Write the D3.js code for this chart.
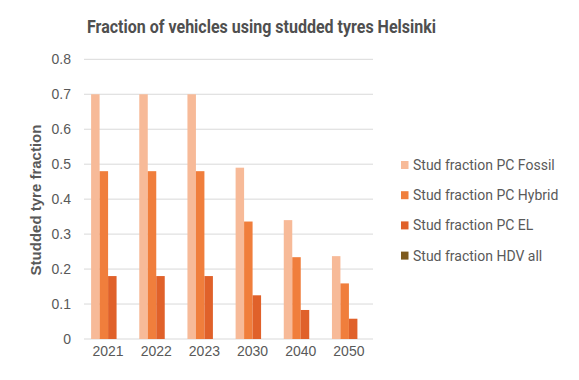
<!DOCTYPE html>
<html><head><meta charset="utf-8">
<script src="https://cdn.jsdelivr.net/npm/d3@7"></script>
<style>body{margin:0;background:#fff}svg{display:block}</style>
</head><body>
<script>
const categories = ["2021","2022","2023","2030","2040","2050"];
const seriesNames = ["Stud fraction PC Fossil","Stud fraction PC Hybrid","Stud fraction PC EL","Stud fraction HDV all"];
const fossil = [0.70,0.70,0.70,0.49,0.34,0.237];
const hybrid = [0.48,0.48,0.48,0.336,0.234,0.159];
const el = [0.18,0.18,0.18,0.125,0.083,0.058];
const hdv = [0,0,0,0,0,0];
const yTicks = [0,0.1,0.2,0.3,0.4,0.5,0.6,0.7,0.8];
const colors = ["#F7BA98","#F07E3C","#E0612A","#7D5A1E"];
const series = [fossil,hybrid,el,hdv];

const W=579,H=380;
const svg=d3.select("body").append("svg").attr("width",W).attr("height",H);
const x0=d3.scaleBand().domain(categories).range([84,373]).paddingInner(0.295).paddingOuter(0.1475);
const x1=d3.scaleBand().domain(d3.range(4)).range([0,x0.bandwidth()]);
const y=d3.scaleLinear().domain([0,0.8]).range([339,59.3]);

svg.append("g").selectAll("line").data(yTicks).join("line")
 .attr("x1",84).attr("x2",373).attr("y1",d=>y(d)).attr("y2",d=>y(d))
 .attr("stroke","#d9d9d9").attr("stroke-width",1);

const yAxis=svg.append("g").attr("transform","translate(71,0)")
 .call(d3.axisLeft(y).tickValues(yTicks).tickSize(0).tickPadding(0).tickFormat(d=>d===0?"0":d3.format(".1f")(d)));
yAxis.select(".domain").remove();
yAxis.selectAll("text").attr("font-family","Liberation Sans, Arial, sans-serif").attr("font-size",14).attr("fill","#595959");

const g=svg.append("g");
series.forEach((s,i)=>{
 g.append("g").selectAll("rect").data(s).join("rect")
  .attr("x",(d,j)=>x0(categories[j])+x1(i))
  .attr("width",x1.bandwidth())
  .attr("y",d=>y(d)).attr("height",d=>y(0)-y(d))
  .attr("fill",colors[i]);
});

const xAxis=svg.append("g").attr("transform","translate(0,346)")
 .call(d3.axisBottom(x0).tickSize(0).tickPadding(0).tickSizeOuter(0));
xAxis.select(".domain").remove();
xAxis.selectAll("text").attr("font-family","Liberation Sans, Arial, sans-serif").attr("font-size",14).attr("fill","#595959").attr("dy","0.71em");

svg.append("text").attr("x",261.5).attr("y",32.5).attr("text-anchor","middle")
 .attr("font-family","Roboto, sans-serif").attr("font-weight","bold").attr("font-size",18)
 .attr("fill","#4f4f4f").attr("textLength",349).attr("lengthAdjust","spacingAndGlyphs")
 .text("Fraction of vehicles using studded tyres Helsinki");

svg.append("text").attr("transform","translate(40.5,200) rotate(-90)").attr("text-anchor","middle")
 .attr("font-family","Liberation Sans, Arial, sans-serif").attr("font-weight","bold").attr("font-size",15)
 .attr("fill","#595959").text("Studded tyre fraction");

const leg=svg.append("g").selectAll("g").data(seriesNames).join("g")
 .attr("transform",(d,i)=>`translate(401,${165+i*30.2})`);
leg.append("rect").attr("x",0).attr("y",-4).attr("width",7.5).attr("height",8).attr("fill",(d,i)=>colors[i]);
leg.append("text").attr("x",12).attr("y",0).attr("dy","0.35em")
 .attr("font-family","Roboto, sans-serif").attr("font-size",14).attr("fill","#595959").text(d=>d);
</script>
</body></html>
